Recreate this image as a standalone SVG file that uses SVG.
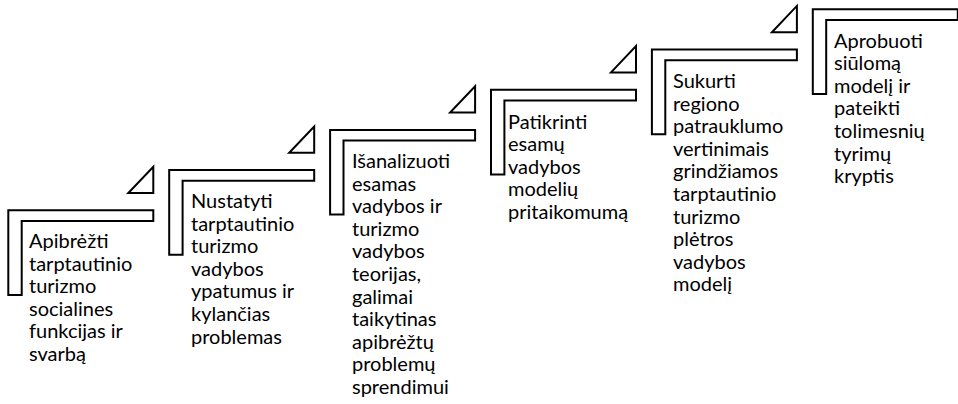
<svg xmlns="http://www.w3.org/2000/svg" width="958" height="404" viewBox="0 0 958 404">
<style>
.frame{fill:#fff;stroke:#000;stroke-width:2;stroke-linejoin:miter}
.tri{fill:#fff;stroke:#000;stroke-width:2;stroke-linejoin:miter}
.lbl{font-family:Lato,"Noto Sans",sans-serif;font-size:20px;fill:#000}
</style>
<defs>
<path id="L" d="M0,0 H145 V10.7 H13.4 V84.7 H0 Z"/>
<path id="T" d="M0,0 V26.3 H-25 Z"/>
</defs>
<rect width="958" height="404" fill="#fff"/>
<g id="connectors">
<use href="#T" class="tri" x="153.3" y="166.7"/>
<use href="#T" class="tri" x="314.2" y="126.5"/>
<use href="#T" class="tri" x="475.1" y="86.3"/>
<use href="#T" class="tri" x="636" y="46.1"/>
<use href="#T" class="tri" x="796.9" y="5.9"/>
</g>
<g id="step1">
<use href="#L" class="frame" x="8.3" y="210.3"/>
<text class="lbl" x="29" y="248"><tspan x="29">Apibrėžti</tspan><tspan x="29" dy="22.6">tarptautinio</tspan><tspan x="29" dy="22.6">turizmo</tspan><tspan x="29" dy="22.6">socialines</tspan><tspan x="29" dy="22.6">funkcijas ir</tspan><tspan x="29" dy="22.6">svarbą</tspan></text>
</g>
<g id="step2">
<use href="#L" class="frame" x="169.2" y="170.1"/>
<text class="lbl" x="191" y="208"><tspan x="191">Nustatyti</tspan><tspan x="191" dy="22.6">tarptautinio</tspan><tspan x="191" dy="22.6">turizmo</tspan><tspan x="191" dy="22.6">vadybos</tspan><tspan x="191" dy="22.6">ypatumus ir</tspan><tspan x="191" dy="22.6">kylančias</tspan><tspan x="191" dy="22.6">problemas</tspan></text>
</g>
<g id="step3">
<use href="#L" class="frame" x="330.1" y="129.9"/>
<text class="lbl" x="352" y="168"><tspan x="352">Išanalizuoti</tspan><tspan x="352" dy="22.6">esamas</tspan><tspan x="352" dy="22.6">vadybos ir</tspan><tspan x="352" dy="22.6">turizmo</tspan><tspan x="352" dy="22.6">vadybos</tspan><tspan x="352" dy="22.6">teorijas,</tspan><tspan x="352" dy="22.6">galimai</tspan><tspan x="352" dy="22.6">taikytinas</tspan><tspan x="352" dy="22.6">apibrėžtų</tspan><tspan x="352" dy="22.6">problemų</tspan><tspan x="352" dy="22.6">sprendimui</tspan></text>
</g>
<g id="step4">
<use href="#L" class="frame" x="491" y="89.7"/>
<text class="lbl" x="508" y="128.5"><tspan x="508">Patikrinti</tspan><tspan x="508" dy="22.6">esamų</tspan><tspan x="508" dy="22.6">vadybos</tspan><tspan x="508" dy="22.6">modelių</tspan><tspan x="508" dy="22.6">pritaikomumą</tspan></text>
</g>
<g id="step5">
<use href="#L" class="frame" x="651.9" y="49.5"/>
<text class="lbl" x="673" y="88"><tspan x="673">Sukurti</tspan><tspan x="673" dy="22.6">regiono</tspan><tspan x="673" dy="22.6">patrauklumo</tspan><tspan x="673" dy="22.6">vertinimais</tspan><tspan x="673" dy="22.6">grindžiamos</tspan><tspan x="673" dy="22.6">tarptautinio</tspan><tspan x="673" dy="22.6">turizmo</tspan><tspan x="673" dy="22.6">plėtros</tspan><tspan x="673" dy="22.6">vadybos</tspan><tspan x="673" dy="22.6">modelį</tspan></text>
</g>
<g id="step6">
<use href="#L" class="frame" x="812.8" y="9.3"/>
<text class="lbl" x="834" y="47.5"><tspan x="834">Aprobuoti</tspan><tspan x="834" dy="22.6">siūlomą</tspan><tspan x="834" dy="22.6">modelį ir</tspan><tspan x="834" dy="22.6">pateikti</tspan><tspan x="834" dy="22.6">tolimesnių</tspan><tspan x="834" dy="22.6">tyrimų</tspan><tspan x="834" dy="22.6">kryptis</tspan></text>
</g>
</svg>
